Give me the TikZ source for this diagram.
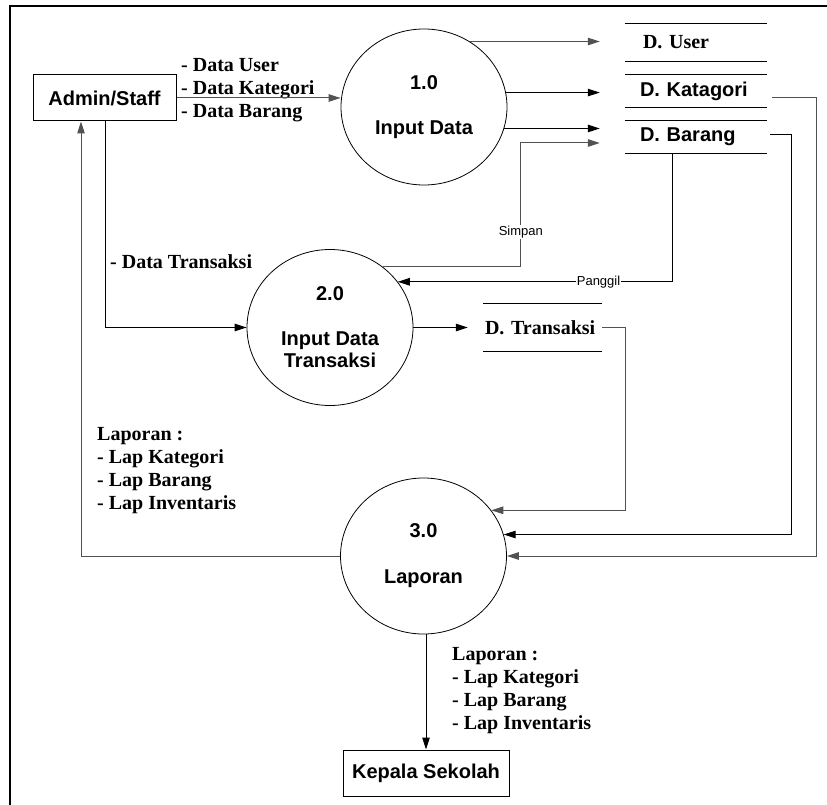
\documentclass[tikz,border=0pt]{standalone}
\usepackage{fontspec}
\setmainfont{Liberation Serif}
\setsansfont{Liberation Sans}
\usetikzlibrary{positioning,arrows.meta,calc,shapes.geometric}

\begin{document}
\begin{tikzpicture}[x=1pt, y=-1pt,
  ent/.style={draw, line width=1pt, minimum width=143pt, minimum height=46pt, inner sep=0pt, font=\sffamily\bfseries\fontsize{20}{22}\selectfont},
  proc/.style={ellipse, draw, line width=0.8pt, minimum width=166pt, minimum height=156pt, align=center, font=\sffamily\bfseries\fontsize{20}{22}\selectfont},
  store/.style={minimum height=32pt, inner ysep=0pt, text width=112pt, inner xsep=15pt, align=left, font=\sffamily\bfseries\fontsize{20}{22}\selectfont},
  lbl/.style={align=left, inner sep=0pt, font=\bfseries\fontsize{20}{23}\selectfont},
  sml/.style={fill=white, text=black, inner sep=1pt, font=\sffamily\fontsize{13}{15}\selectfont},
  ln/.style={line width=1pt},
  gl/.style={ln, black!68},
  arr/.style={ln, -{Triangle[length=12pt,width=7.5pt]}},
  garr/.style={gl, -{Triangle[length=12pt,width=7.5pt]}}
]
\useasboundingbox (0,0) rectangle (827,805);
\draw[line width=2pt] (10,805) -- (10,6) -- (827,6);

% entities and processes
\node[ent] (admin) at (104.5,98) {Admin/Staff};
\node[ent, minimum width=166pt] (kepala) at (426,773) {Kepala Sekolah};
\node[proc] (p1) at (424,107) {1.0\\[23pt]Input Data};
\node[proc] (p2) at (330,327.5) {2.0\\[23pt]Input Data\\Transaksi};
\node[proc] (p3) at (423.5,556) {3.0\\[24pt]Laporan};

% data stores
\node[store, minimum height=37pt, inner xsep=18pt, text width=106pt, font=\bfseries\fontsize{20}{22}\selectfont] (du) at (696,42.5) {D. User};
\node[store] (dk) at (696,91) {D. Katagori};
\node[store] (db) at (696,137) {D. Barang};
\node[store, text width=115pt, inner xsep=2pt, minimum height=47pt, font=\bfseries\fontsize{20}{22}\selectfont] (dt) at (542.5,327.5) {D. Transaksi};
\foreach \s in {du,dk,db,dt} \draw[ln] (\s.north west) -- (\s.north east) (\s.south west) -- (\s.south east);

% labels
\node[lbl, anchor=west] (ldata) at (181,90) {- Data User\\- Data Kategori\\- Data Barang};
\node[lbl, anchor=west] (ltrx) at (110,262) {- Data Transaksi};
\node[lbl, anchor=west] (lrep1) at (97,471) {Laporan :\\- Lap Kategori\\- Lap Barang\\- Lap Inventaris};
\node[lbl, anchor=west] (lrep2) at (452,691) {Laporan :\\- Lap Kategori\\- Lap Barang\\- Lap Inventaris};

% flows
\draw[garr] (admin.east) -- (admin.east -| p1.west);
\draw[garr] (p1.55) -- ([xshift=-25pt]p1.55 -| du.west);
\draw[arr] (p1.10) -- ([xshift=-25pt]p1.10 -| dk.west);
\draw[arr] (p1.-15) -- ([xshift=-25pt]p1.-15 -| db.west);
\draw[garr] (p2.49) -| node[sml, pos=0.64]{Simpan} ([xshift=-104pt,yshift=-6pt]db.west) -- ([xshift=-25pt,yshift=-6pt]db.west);
\draw[arr] ([xshift=48pt]db.south west) |- node[sml, pos=0.635]{Panggil} (p2.34);
\draw[arr] (p2.east) -- ([xshift=-15pt]dt.west);
\draw[garr] (dt.east) -- ++(23,0) |- (p3.34);
\draw[garr] ([xshift=5pt,yshift=-7pt]dk.east) -- ++(44,0) |- (p3.east);
\draw[arr] ([xshift=3pt,yshift=2pt]db.east) -- ++(21,0) |- (p3.15.5);
\draw[garr] (p3.west) -| ([xshift=-23.5pt]admin.south);
\draw[arr] ([xshift=0.5pt]admin.south) |- (p2.west);
\draw[arr] (kepala.north |- p3.south) -- (kepala.north);
\end{tikzpicture}
\end{document}
